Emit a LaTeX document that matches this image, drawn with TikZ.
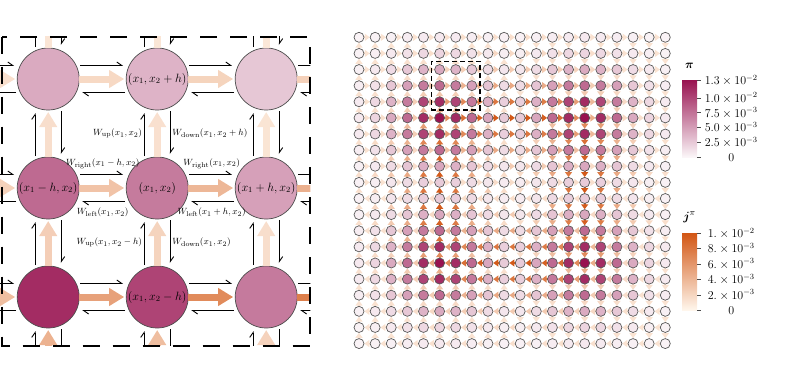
\documentclass[tikz,border=0pt]{standalone}
\usepackage{amsmath,amssymb}
\usepackage{tikz}
\usetikzlibrary{positioning,arrows.meta,fit,calc,backgrounds}
\usepackage{xcolor}
\definecolor{pic}{RGB}{152,18,80}
\definecolor{jcol}{RGB}{210,86,20}
\definecolor{jlow}{RGB}{255,246,236}

\begin{document}
\begin{tikzpicture}[
    x=1pt, y=-1pt,
    declare function={
      sgm(\u)=1/(1+exp(-max(min(\u,8),-8)));
      gg(\u)=sgm(\u-5)*sgm(14-\u);
      dg(\u)=sgm(\u-5)*(1-sgm(\u-5))*sgm(14-\u)-sgm(\u-5)*sgm(14-\u)*(1-sgm(14-\u));
      gs(\u,\v)=exp(-min(((\u)*(\u)+(\v)*(\v))/8,9));
      bump(\u,\v)=gs(\u-5,\v-5)+gs(\u-14,\v-5)+gs(\u-5,\v-14)+gs(\u-14,\v-14);
    },
    big/.style={circle, minimum size=62pt, inner sep=0pt, draw=black!70, line width=0.7pt},
    site/.style={circle, minimum size=10pt, inner sep=0pt, draw=black!65, line width=0.7pt},
    rate/.style={line width=0.9pt, -{Straight Barb[harpoon, length=5pt, width=7pt]},
      shorten <=32pt, shorten >=34pt},
    bigflow/.style={line width=7pt, -{Triangle[length=15pt, width=17pt]},
      shorten <=31pt, shorten >=33pt},
    flow/.style={line width=2pt, -{Triangle[length=5pt, width=7pt]}},
    wlab/.style={font=\fontsize{9.5}{11}\selectfont, inner sep=1pt},
    slab/.style={font=\fontsize{11.5}{13}\selectfont, inner sep=0pt},
    tlab/.style={font=\fontsize{11.5}{13}\selectfont, inner sep=0pt},
    cbar/.style={minimum width=15pt, minimum height=77pt, inner sep=0pt},
    tick/.style={draw=black!70, line width=0.6pt}]
  \useasboundingbox (0,0) rectangle (789,383);

  % 左：3x3 の拡大図
  \foreach \col in {0,...,4}
    \foreach \row in {0,...,4}
      \coordinate (p-\col-\row) at (48.2+109*\col-109, 79+109*\row-109);
  \begin{scope}
    \clip (-5,36.7) rectangle (310.3,345.7);
    \foreach \col in {1,2,3}
      \foreach \row in {1,2,3}{
        \pgfmathsetmacro\pv{min(100,5+95*bump(\col+4,\row+1))}
        \node[big, fill=pic!\pv!white] (s-\col-\row) at (p-\col-\row) {};
      }
    % 横の遷移
    \foreach \col in {0,...,3}
      \foreach \row in {1,2,3}{
        \pgfmathtruncatemacro\nx{\col+1}
        \pgfmathsetmacro\jv{gg(\col+4.5)*dg(\row+1)/0.25}
        \pgfmathsetmacro\pj{min(100,8+92*abs(\jv))}
        \draw[rate] ([yshift=13.5pt]p-\col-\row) -- ([yshift=13.5pt]p-\nx-\row);
        \draw[rate] ([yshift=-13.5pt]p-\nx-\row) -- ([yshift=-13.5pt]p-\col-\row);
        \ifdim\jv pt<0pt
          \draw[bigflow, draw=jcol!\pj!jlow] (p-\nx-\row) -- (p-\col-\row);
        \else
          \draw[bigflow, draw=jcol!\pj!jlow] (p-\col-\row) -- (p-\nx-\row);
        \fi
      }
    % 縦の遷移
    \foreach \col in {1,2,3}
      \foreach \row in {0,...,3}{
        \pgfmathtruncatemacro\ny{\row+1}
        \pgfmathsetmacro\jv{-dg(\col+4)*gg(\row+1.5)/0.25}
        \pgfmathsetmacro\pj{min(100,8+92*abs(\jv))}
        \draw[rate] ([xshift=-13pt]p-\col-\ny) -- ([xshift=-13pt]p-\col-\row);
        \draw[rate] ([xshift=13pt]p-\col-\row) -- ([xshift=13pt]p-\col-\ny);
        \ifdim\jv pt<0pt
          \draw[bigflow, draw=jcol!\pj!jlow] (p-\col-\ny) -- (p-\col-\row);
        \else
          \draw[bigflow, draw=jcol!\pj!jlow] (p-\col-\row) -- (p-\col-\ny);
        \fi
      }
  \end{scope}
  \node[slab] (t-top) at (s-2-1) {$(x_1, x_2 + h)$};
  \node[slab] (t-left) at (s-1-2) {$(x_1 - h, x_2)$};
  \node[slab] (t-mid) at (s-2-2) {$(x_1, x_2)$};
  \node[slab] (t-right) at (s-3-2) {$(x_1 + h, x_2)$};
  \node[slab] (t-bot) at (s-2-3) {$(x_1, x_2 - h)$};
  \node[wlab, anchor=east] (w-up1) at ($(p-2-1)!.5!(p-2-2)+(-14,0)$) {$W_{\mathrm{up}}(x_1, x_2)$};
  \node[wlab, anchor=west] (w-dn1) at ($(p-2-1)!.5!(p-2-2)+(14,0)$) {$W_{\mathrm{down}}(x_1, x_2 + h)$};
  \node[wlab, anchor=east] (w-up2) at ($(p-2-2)!.5!(p-2-3)+(-14,0)$) {$W_{\mathrm{up}}(x_1, x_2 - h)$};
  \node[wlab, anchor=west] (w-dn2) at ($(p-2-2)!.5!(p-2-3)+(14,0)$) {$W_{\mathrm{down}}(x_1, x_2)$};
  \node[wlab] (w-r1) at ($(p-1-2)!.5!(p-2-2)+(0,-24.5)$) {$W_{\mathrm{right}}(x_1 - h, x_2)$};
  \node[wlab] (w-r2) at ($(p-2-2)!.5!(p-3-2)+(0,-24.5)$) {$W_{\mathrm{right}}(x_1, x_2)$};
  \node[wlab] (w-l1) at ($(p-1-2)!.5!(p-2-2)+(0,24.5)$) {$W_{\mathrm{left}}(x_1, x_2)$};
  \node[wlab] (w-l2) at ($(p-2-2)!.5!(p-3-2)+(0,24.5)$) {$W_{\mathrm{left}}(x_1 + h, x_2)$};
  \draw[line width=2pt, dash pattern=on 17pt off 13pt] (1.5,36.7) rectangle (310.3,345.7);

  % 右：格子全体
  \foreach \col in {0,...,19}
    \foreach \row in {0,...,19}{
      \pgfmathsetmacro\pv{min(100,5+95*bump(\col,\row))}
      \node[site, fill=pic!\pv!white] (n-\col-\row) at (359+16.12*\col, 37.3+16.12*\row) {};
    }
  \begin{scope}[on background layer]
    \foreach \col in {0,...,18}
      \foreach \row in {0,...,19}{
        \pgfmathtruncatemacro\nx{\col+1}
        \pgfmathsetmacro\jv{gg(\col+0.5)*dg(\row)/0.25}
        \pgfmathsetmacro\pj{min(100,12+88*abs(\jv))}
        \ifdim\jv pt<0pt
          \draw[flow, draw=jcol!\pj!jlow] (n-\nx-\row.center) -- (n-\col-\row);
        \else
          \draw[flow, draw=jcol!\pj!jlow] (n-\col-\row.center) -- (n-\nx-\row);
        \fi
      }
    \foreach \col in {0,...,19}
      \foreach \row in {0,...,18}{
        \pgfmathtruncatemacro\ny{\row+1}
        \pgfmathsetmacro\jv{-dg(\col)*gg(\row+0.5)/0.25}
        \pgfmathsetmacro\pj{min(100,12+88*abs(\jv))}
        \ifdim\jv pt<0pt
          \draw[flow, draw=jcol!\pj!jlow] (n-\col-\ny.center) -- (n-\col-\row);
        \else
          \draw[flow, draw=jcol!\pj!jlow] (n-\col-\row.center) -- (n-\col-\ny);
        \fi
      }
  \end{scope}
  \node[fit=(n-5-2)(n-7-4), draw, line width=1.6pt, dash pattern=on 5pt off 3pt,
    inner sep=2.8pt] (win) {};

  % カラーバー
  \node[cbar, top color=pic, bottom color=pic!4!white] (pibar) at (689.5,118.5) {};
  \node[above=8pt of pibar, font=\fontsize{13}{14}\selectfont] (pititle) {$\boldsymbol{\pi}$};
  \foreach \v/\lab in {0/0, 2.5/2.5\times10^{-3}, 5/5.0\times10^{-3},
      7.5/7.5\times10^{-3}, 10/1.0\times10^{-2}, 13/1.3\times10^{-2}}{
    \draw[tick] ($(pibar.south east)+(0,-5.923*\v)$) -- ++(4,0);
    \node[tlab] at ($(pibar.south east)+(34,-5.923*\v)$) {$\lab$};
  }
  \node[cbar, top color=jcol, bottom color=jlow] (jbar) at (689.5,271.5) {};
  \node[above=6pt of jbar, font=\fontsize{13}{14}\selectfont] (jtitle) {$\boldsymbol{j}^{\pi}$};
  \foreach \v/\lab in {0/0, 2/2.\times10^{-3}, 4/4.\times10^{-3},
      6/6.\times10^{-3}, 8/8.\times10^{-3}, 10/1.\times10^{-2}}{
    \draw[tick] ($(jbar.south east)+(0,-7.7*\v)$) -- ++(4,0);
    \node[tlab] at ($(jbar.south east)+(34,-7.7*\v)$) {$\lab$};
  }
\end{tikzpicture}
\end{document}
